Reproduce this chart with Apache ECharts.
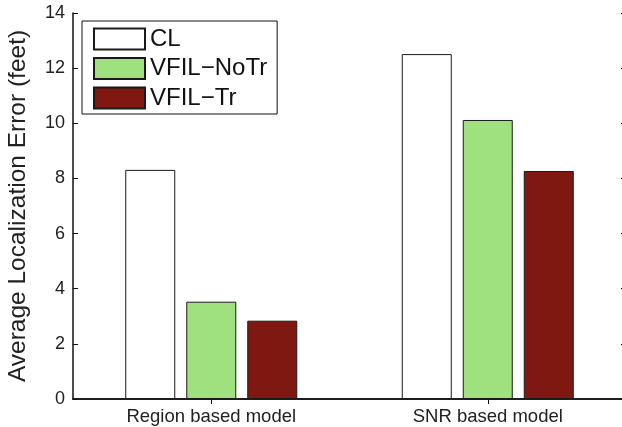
<!DOCTYPE html>
<html>
<head>
<meta charset="utf-8">
<script src="https://cdn.jsdelivr.net/npm/echarts@6/dist/echarts.min.js"></script>
<style>html,body{margin:0;padding:0;background:#fff;overflow:hidden}#c{width:634px;height:427px}</style>
</head>
<body>
<div id="c"></div>
<script>
const categories = ['Region based model', 'SNR based model'];
const seriesNames = ['CL', 'VFIL\u2212NoTr', 'VFIL\u2212Tr'];
const clValues = [8.31, 12.51];
const noTrValues = [3.53, 10.12];
const trValues = [2.84, 8.27];
const yTicks = { min: 0, max: 14, interval: 2 };
const yTitle = 'Average Localization Error (feet)';

const colors = ['#ffffff', '#9fe07f', '#7f1810'];
const font = 'Liberation Sans, Arial, Helvetica, sans-serif';
const chart = echarts.init(document.getElementById('c'), null, { renderer: 'canvas' });

function barSeries(name, data, color) {
  return {
    name: name, type: 'bar', data: data, barWidth: 50, barGap: '22%',
    itemStyle: { color: color, borderColor: '#1a1a1a', borderWidth: 1 },
    xAxisIndex: 0, yAxisIndex: 0
  };
}

chart.setOption({
  animation: false,
  backgroundColor: '#fff',
  textStyle: { fontFamily: font },
  grid: { left: 73, top: 13, width: 553, height: 386, containLabel: false, outerBoundsMode: 'none' },
  legend: {
    left: 82, top: 21, orient: 'vertical',
    itemWidth: 51, itemHeight: 21, itemGap: 5.5,
    padding: [6, 10, 4, 11],
    backgroundColor: '#fff', borderColor: '#111', borderWidth: 1,
    icon: 'rect',
    textStyle: { fontFamily: font, fontSize: 24, color: '#111', lineHeight: 21 },
    data: seriesNames
  },
  xAxis: [{
    type: 'category', data: categories, position: 'bottom',
    axisLine: { lineStyle: { color: '#111', width: 1.5 } },
    axisTick: { show: true, inside: true, length: 5, alignWithLabel: true, lineStyle: { color: '#111' } },
    axisLabel: { fontFamily: font, fontSize: 18.5, color: '#222', margin: 8 }
  }, {
    type: 'category', data: categories, position: 'top',
    axisLine: { show: true, lineStyle: { color: '#111', width: 1.5 } },
    axisTick: { show: true, inside: true, length: 5, alignWithLabel: true, lineStyle: { color: '#111' } },
    axisLabel: { show: false }
  }],
  yAxis: [{
    type: 'value', min: yTicks.min, max: yTicks.max, interval: yTicks.interval, position: 'left',
    name: yTitle, nameLocation: 'middle', nameGap: 42,
    nameTextStyle: { fontFamily: font, fontSize: 24.5, color: '#222' },
    axisLine: { show: true, lineStyle: { color: '#111', width: 1.5 } },
    axisTick: { show: true, inside: true, length: 5, lineStyle: { color: '#111' } },
    axisLabel: { fontFamily: font, fontSize: 18, color: '#222', margin: 8 },
    splitLine: { show: false }
  }, {
    type: 'value', min: yTicks.min, max: yTicks.max, interval: yTicks.interval, position: 'right',
    axisLine: { show: true, lineStyle: { color: '#111', width: 1.5 } },
    axisTick: { show: true, inside: true, length: 5, lineStyle: { color: '#111' } },
    axisLabel: { show: false },
    splitLine: { show: false }
  }],
  series: [
    barSeries(seriesNames[0], clValues, colors[0]),
    barSeries(seriesNames[1], noTrValues, colors[1]),
    barSeries(seriesNames[2], trValues, colors[2])
  ]
});
</script>
</body>
</html>
